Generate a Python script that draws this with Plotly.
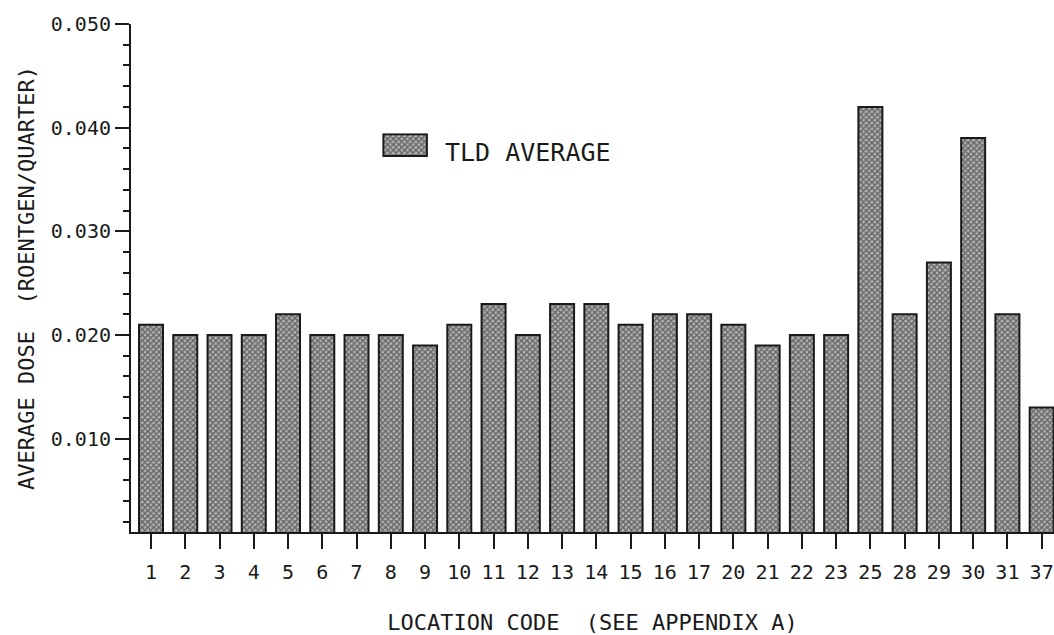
import plotly.graph_objects as go

# Location codes and quarterly TLD average dose (roentgen/quarter)
locations = ["1", "2", "3", "4", "5", "6", "7", "8", "9", "10", "11", "12", "13",
             "14", "15", "16", "17", "20", "21", "22", "23", "25", "28", "29",
             "30", "31", "37"]
tld_average = [0.021, 0.020, 0.020, 0.020, 0.022, 0.020, 0.020, 0.020, 0.019,
               0.021, 0.023, 0.020, 0.023, 0.023, 0.021, 0.022, 0.022, 0.021,
               0.019, 0.020, 0.020, 0.042, 0.022, 0.027, 0.039, 0.022, 0.013]
y_tick_values = [0.010, 0.020, 0.030, 0.040, 0.050]
legend_label = "TLD AVERAGE"

FONT = "DejaVu Sans Mono"
INK = "#1a1a1a"
hatch = dict(shape="x", size=4, solidity=0.6, fgcolor="#151515", bgcolor="#b4b4b4")

fig = go.Figure()

fig.add_trace(go.Bar(
    x=locations, y=tld_average, width=0.70,
    marker=dict(color="#6a6a6a", pattern=hatch, line=dict(color=INK, width=2)),
    showlegend=False, hoverinfo="x+y",
))

# Legend swatch drawn on its own small hidden subplot so it keeps the hatch fill
fig.add_trace(go.Bar(
    x=[0], y=[1], width=1, xaxis="x2", yaxis="y2",
    marker=dict(color="#6a6a6a", pattern=hatch, line=dict(color=INK, width=2)),
    showlegend=False, hoverinfo="skip",
))

fig.update_layout(
    width=1054, height=635,
    margin=dict(l=131, r=0, t=24, b=103),
    paper_bgcolor="white", plot_bgcolor="white",
    font=dict(family=FONT, color=INK, size=19),
    bargap=0.3,
    xaxis=dict(
        type="category", range=[-0.584, 26.36],
        showline=True, linecolor=INK, linewidth=2,
        ticks="outside", ticklen=15, tickwidth=2, tickcolor=INK,
        tickfont=dict(size=20), ticklabelstandoff=6,
        showgrid=False, zeroline=False,
        title=dict(text="LOCATION CODE  (SEE APPENDIX A)",
                   font=dict(size=22), standoff=36),
    ),
    yaxis=dict(
        range=[0.001, 0.050],
        tickvals=y_tick_values, tickformat=".3f",
        showline=True, linecolor=INK, linewidth=2,
        ticks="outside", ticklen=14, tickwidth=2, tickcolor=INK,
        minor=dict(dtick=0.002, ticks="outside", ticklen=6, tickwidth=2,
                   tickcolor=INK, showgrid=False),
        tickfont=dict(size=20), showgrid=False, zeroline=False,
        title=dict(text="AVERAGE DOSE  (ROENTGEN/QUARTER)",
                   font=dict(size=22), standoff=10),
    ),
    xaxis2=dict(domain=[0.272, 0.322], range=[-0.53, 0.53], visible=False,
                anchor="y2", fixedrange=True),
    yaxis2=dict(domain=[0.738, 0.785], range=[-0.05, 1.05], visible=False,
                anchor="x2", fixedrange=True),
)

fig.add_annotation(
    text=legend_label, xref="paper", yref="paper", x=0.338, y=0.748,
    xanchor="left", yanchor="middle", showarrow=False,
    font=dict(family=FONT, size=25, color=INK),
)

fig.write_html("out.html")
